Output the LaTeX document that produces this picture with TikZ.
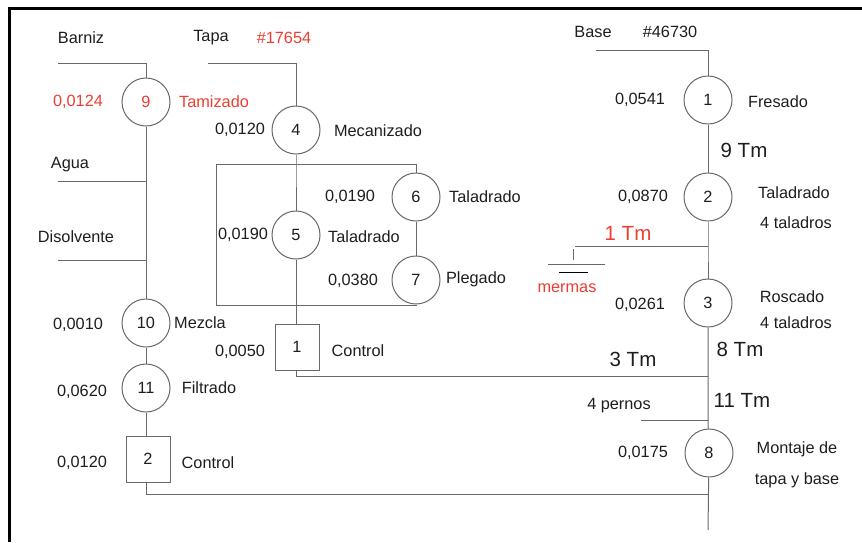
\documentclass[tikz,border=0pt]{standalone}
\usepackage{fontspec}
\setmainfont{Liberation Sans}
\definecolor{linegray}{RGB}{105,105,105}
\definecolor{txt}{RGB}{30,30,30}
\definecolor{redc}{RGB}{236,62,50}
\newcommand{\fs}{\fontsize{16.3}{19}\selectfont}
\newcommand{\fb}{\fontsize{20.5}{24}\selectfont}
\begin{document}
\begin{tikzpicture}[x=1pt,y=-1pt,
  ln/.style={draw=linegray, line width=1pt},
  op/.style={circle, draw=linegray, line width=1pt, minimum size=48pt, inner sep=0pt, font=\fs, text=txt},
  ctl/.style={rectangle, draw=linegray, line width=1pt, minimum width=44pt, minimum height=46pt, inner sep=0pt, font=\fs, text=txt},
  lbl/.style={font=\fs, text=txt, inner sep=0pt},
  rlbl/.style={lbl, text=redc},
  big/.style={font=\fb, text=txt, inner sep=0pt},
  rbig/.style={big, text=redc}]
\useasboundingbox (0,0) rectangle (862,542);
\fill[white] (0,0) rectangle (862,542);
\draw[line width=3pt, black] (9,542) -- (9,8) -- (862,8);

% ---------- left column: Barniz ----------
\node[lbl] (tbarniz) at (81,38) {Barniz};
\node[op] (c9) at (146,102) {\textcolor{redc}{9}};
\node[rlbl] (t9a) at (78,102) {0,0124};
\node[rlbl] (t9b) at (214,102) {Tamizado};
\node[lbl] (tagua) at (70,165) {Agua};
\node[lbl] (tdis) at (76,237) {Disolvente};
\node[op] (c10) at (146,323) {10};
\node[lbl] (t10a) at (78,325) {0,0010};
\node[lbl] (t10b) at (200,323) {Mezcla};
\node[op] (c11) at (146,388) {11};
\node[lbl] (t11a) at (82,392) {0,0620};
\node[lbl] (t11b) at (209,388) {Filtrado};
\node[ctl] (k2) at (148,459) {2};
\node[lbl] (tk2a) at (82,463) {0,0120};
\node[lbl] (tk2b) at (208,463) {Control};

\coordinate (b0) at (58,63);  \coordinate (b1) at (146,63);
\coordinate (a0) at (58,181); \coordinate (a1) at (146,181);
\coordinate (d0) at (58,260); \coordinate (d1) at (146,260);
\coordinate (bot0) at (146,494); \coordinate (bot1) at (708,494);
\draw[ln] (b0) -- (b1) -- (c9);
\draw[ln] (c9) -- (c10);
\draw[ln] (a0) -- (a1);
\draw[ln] (d0) -- (d1);
\draw[ln] (c10) -- (c11);
\draw[ln] (c11) -- (c11 |- k2.north);
\draw[ln] (k2.south -| bot0) -- (bot0) -- (bot1);

% ---------- middle column: Tapa ----------
\node[lbl] (ttapa) at (211,38) {Tapa};
\node[rlbl] (tcode1) at (284,38) {\#17654};
\node[op] (c4) at (296,130) {4};
\node[lbl] (t4a) at (240,130) {0,0120};
\node[lbl] (t4b) at (378,131) {Mecanizado};
\node[op] (c5) at (296,235) {5};
\node[lbl] (t5a) at (243,235) {0,0190};
\node[lbl] (t5b) at (364,237) {Taladrado};
\node[op] (c6) at (416,197) {6};
\node[lbl] (t6a) at (350,197) {0,0190};
\node[lbl] (t6b) at (485,197) {Taladrado};
\node[op] (c7) at (416,280) {7};
\node[lbl] (t7a) at (353,281) {0,0380};
\node[lbl] (t7b) at (476,279) {Plegado};
\node[ctl] (k1) at (297,347) {1};
\node[lbl] (tk1a) at (240,352) {0,0050};
\node[lbl] (tk1b) at (358,351) {Control};

\coordinate (t0) at (208,63); \coordinate (t1) at (296,63);
\coordinate (lt) at (296,164);
\coordinate (rtl) at (216,164); \coordinate (rbl) at (216,305);
\coordinate (rbr) at (416,305); \coordinate (rtr) at (416,164);
\coordinate (m0) at (296,376); \coordinate (m1) at (708,376);
\draw[ln] (t0) -- (t1) -- (c4);
\draw[ln] (c4) -- (lt) -- (c5);
\draw[ln] (lt) -- (rtl) -- (rbl) -- (rbr) -- (c7);
\draw[ln] (lt) -- (rtr) -- (c6);
\draw[ln] (c6) -- (c7);
\draw[ln] (c5) -- (c5 |- k1.north);
\draw[ln] (k1.south -| m0) -- (m0) -- (m1);

% ---------- right column: Base ----------
\node[lbl] (tbase) at (593,32) {Base};
\node[lbl] (tcode2) at (670,32) {\#46730};
\node[op] (c1) at (708,100) {1};
\node[lbl] (t1a) at (640,100) {0,0541};
\node[lbl] (t1b) at (778,102) {Fresado};
\node[big] (tm9) at (744,150) {9 Tm};
\node[op] (c2) at (708,197) {2};
\node[lbl] (t2a) at (643,197) {0,0870};
\node[lbl] (t2b) at (794,193) {Taladrado};
\node[lbl] (t2c) at (796,223) {4 taladros};
\node[rbig] (tm1) at (628,233) {1 Tm};
\node[rlbl] (tmer) at (567,288) {mermas};
\node[op] (c3) at (708,303) {3};
\node[lbl] (t3a) at (640,305) {0,0261};
\node[lbl] (t3b) at (792,297) {Roscado};
\node[lbl] (t3c) at (796,323) {4 taladros};
\node[big] (tm8) at (740,349) {8 Tm};
\node[big] (tm3) at (633,359) {3 Tm};
\node[big] (tm11) at (742,400) {11 Tm};
\node[lbl] (tper) at (619,406) {4 pernos};
\node[op] (c8) at (709,453) {8};
\node[lbl] (t8a) at (643,453) {0,0175};
\node[lbl] (t8b) at (797,449) {Montaje de};
\node[lbl] (t8c) at (797,480) {tapa y base};

\coordinate (s0) at (596,50); \coordinate (s1) at (708,50);
\coordinate (mj) at (708,246); \coordinate (mg) at (575,246);
\coordinate (pj) at (708,420); \coordinate (p0) at (641,420);
\coordinate (endb) at (708,530);
\draw[ln] (s0) -- (s1) -- (c1);
\draw[ln] (c1) -- (c2);
\draw[ln] (c2) -- (mj) -- (c3);
\draw[ln] (mj) -- (mg);
\draw[ln] (573,249) -- (573,260);
\draw[ln] (548,264) -- (605,264);
\draw[ln, draw=black] (559,272) -- (588,272);
\draw[ln] (c3) -- (pj) -- (c8);
\draw[ln] (pj) -- (p0);
\draw[ln] (c8) -- (endb);
\end{tikzpicture}
\end{document}
